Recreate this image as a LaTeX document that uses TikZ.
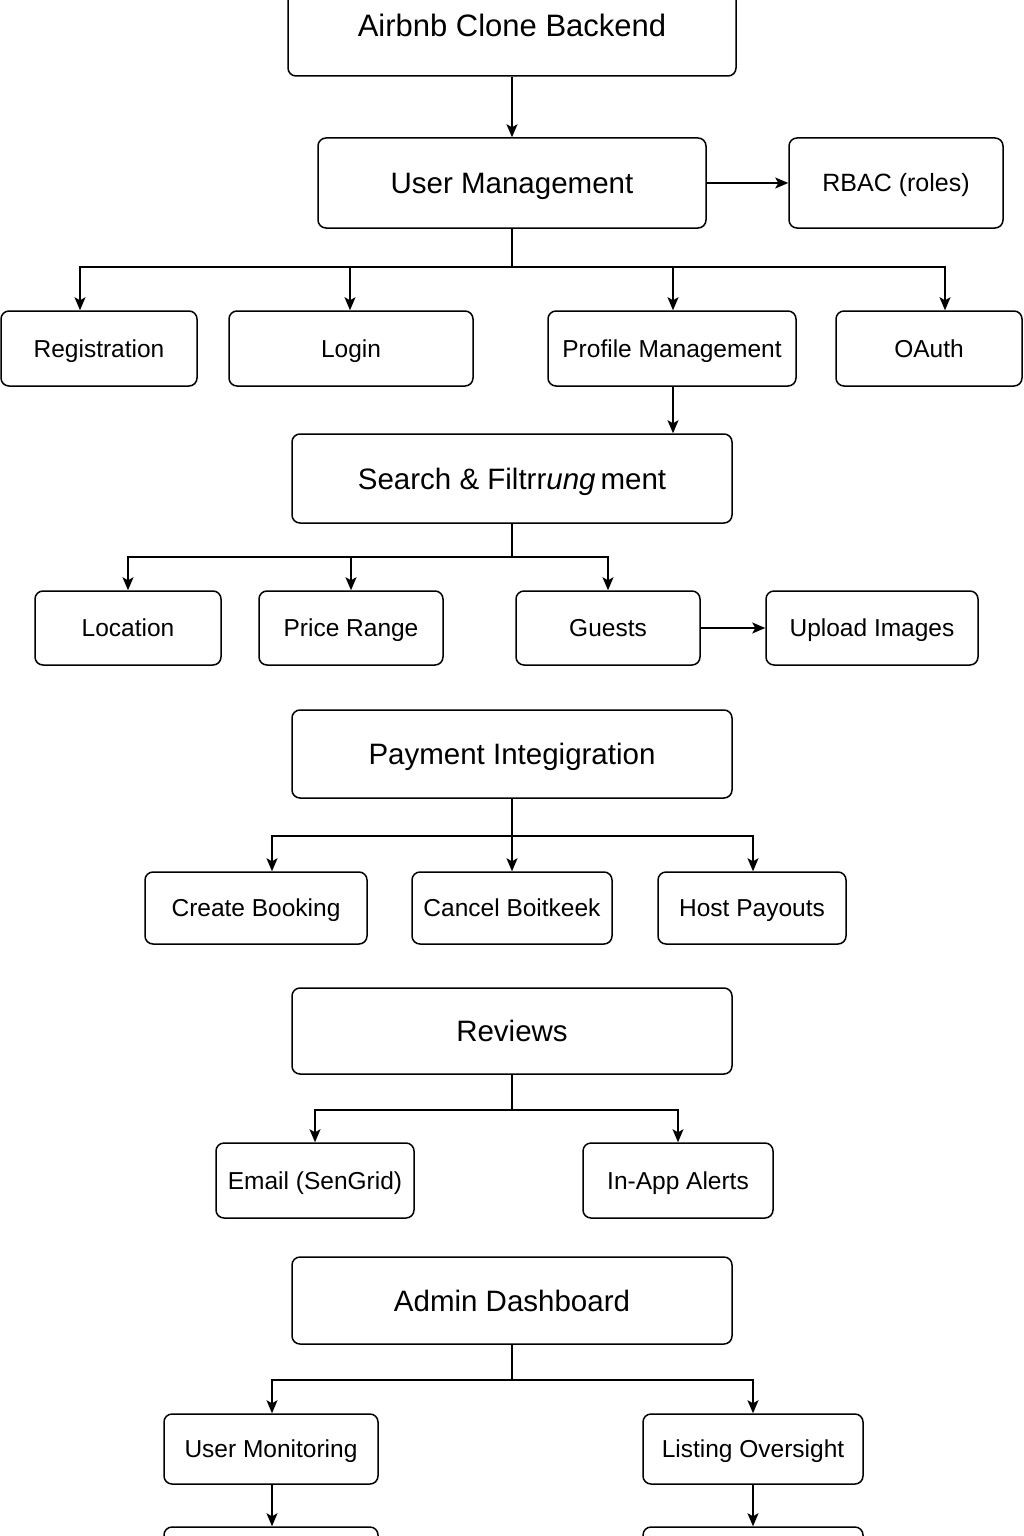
\documentclass[tikz,border=0pt]{standalone}
\usepackage{fontspec}
\setmainfont{Liberation Sans}
\usetikzlibrary{arrows.meta}
\begin{document}
\begin{tikzpicture}[x=1pt,y=-1pt,
  box/.style={draw, rounded corners=8pt, line width=1.5pt, inner sep=0pt, align=center, text depth=0pt},
  big/.style={box, font=\fontsize{29.5}{34}\selectfont, text height=21pt},
  title/.style={box, font=\fontsize{31}{36}\selectfont, text height=22.2pt},
  small/.style={box, font=\fontsize{24.5}{29}\selectfont, text height=17.5pt},
  conn/.style={line width=1.3pt},
  arr/.style={conn, -{Stealth[length=13pt,width=11pt,inset=3pt]}}]
\useasboundingbox (0,0) rectangle (1024,1536);
\clip (0,0) rectangle (1024,1536);
\fill[white] (0,0) rectangle (1024,1536);
% nodes
\node[title, minimum width=448pt, minimum height=102pt] (top) at (512,25) {Airbnb Clone Backend};
\node[big, minimum width=388pt, minimum height=90pt] (um) at (512,183) {User Management};
\node[small, font=\fontsize{25}{29}\selectfont, minimum width=214pt, minimum height=90pt] (rbac) at (896,183) {RBAC (roles)};
\node[small, minimum width=196pt, minimum height=75pt] (reg) at (99,348.5) {Registration};
\node[small, minimum width=244pt, minimum height=75pt] (login) at (351,348.5) {Login};
\node[small, minimum width=248pt, minimum height=75pt] (prof) at (672,348.5) {Profile Management};
\node[small, minimum width=186pt, minimum height=75pt] (oauth) at (929,348.5) {OAuth};
\node[big, minimum width=440pt, minimum height=89pt] (search) at (512,478.5) {Search \& Filtrr{\itshape ung}\,ment};
\node[small, minimum width=186pt, minimum height=74pt] (loc) at (128,628) {Location};
\node[small, minimum width=184pt, minimum height=74pt] (price) at (351,628) {Price Range};
\node[small, minimum width=184pt, minimum height=74pt] (guests) at (608,628) {Guests};
\node[small, minimum width=212pt, minimum height=74pt] (upload) at (872,628) {Upload Images};
\node[big, minimum width=440pt, minimum height=88pt] (pay) at (512,754) {Payment Integigration};
\node[small, minimum width=222pt, minimum height=72pt] (create) at (256,908) {Create Booking};
\node[small, minimum width=200pt, minimum height=72pt] (cancel) at (512,908) {Cancel Boitkeek};
\node[small, minimum width=188pt, minimum height=72pt] (host) at (752,908) {Host Payouts};
\node[big, minimum width=440pt, minimum height=86pt] (rev) at (512,1031) {Reviews};
\node[small, minimum width=198pt, minimum height=75pt] (email) at (315,1180.5) {Email (SenGrid)};
\node[small, minimum width=190pt, minimum height=75pt] (inapp) at (678,1180.5) {In-App Alerts};
\node[big, minimum width=440pt, minimum height=87pt] (admin) at (512,1300.5) {Admin Dashboard};
\node[small, minimum width=214pt, minimum height=70pt] (umon) at (271,1449) {User Monitoring};
\node[small, minimum width=220pt, minimum height=70pt] (lov) at (753,1449) {Listing Oversight};
\node[small, minimum width=214pt, minimum height=73pt] (b1) at (271,1563.5) {};
\node[small, minimum width=220pt, minimum height=73pt] (b2) at (753,1563.5) {};
% junctions
\coordinate (j1) at (512,267);
\coordinate (j2) at (512,557);
\coordinate (j3) at (512,836);
\coordinate (j4) at (512,1110);
\coordinate (j5) at (512,1380);
% connectors
\draw[arr] (top.south) -- (um.north);
\draw[arr] (um.east) -- (rbac.west);
\draw[conn] (um.south) -- (j1);
\draw[arr] (j1) -| ([xshift=-19pt]reg.north);
\draw[arr] (j1) -| ([xshift=-1pt]login.north);
\draw[arr] (j1) -| ([xshift=1pt]prof.north);
\draw[arr] (j1) -| ([xshift=16pt]oauth.north);
\draw[arr] ([xshift=1pt]prof.south) -- ([xshift=1pt]prof.south |- search.north);
\draw[conn] (search.south) -- (j2);
\draw[arr] (j2) -| (loc.north);
\draw[arr] (j2) -| (price.north);
\draw[arr] (j2) -| (guests.north);
\draw[arr] (guests.east) -- (upload.west);
\draw[conn] (pay.south) -- (j3);
\draw[arr] (j3) -| ([xshift=16pt]create.north);
\draw[arr] (j3) -- (cancel.north);
\draw[arr] (j3) -| ([xshift=1pt]host.north);
\draw[conn] (rev.south) -- (j4);
\draw[arr] (j4) -| (email.north);
\draw[arr] (j4) -| (inapp.north);
\draw[conn] (admin.south) -- (j5);
\draw[arr] (j5) -| ([xshift=1pt]umon.north);
\draw[arr] (j5) -| (lov.north);
\draw[arr] ([xshift=1pt]umon.south) -- ([xshift=1pt]b1.north);
\draw[arr] (lov.south) -- (b2.north);
\end{tikzpicture}
\end{document}
